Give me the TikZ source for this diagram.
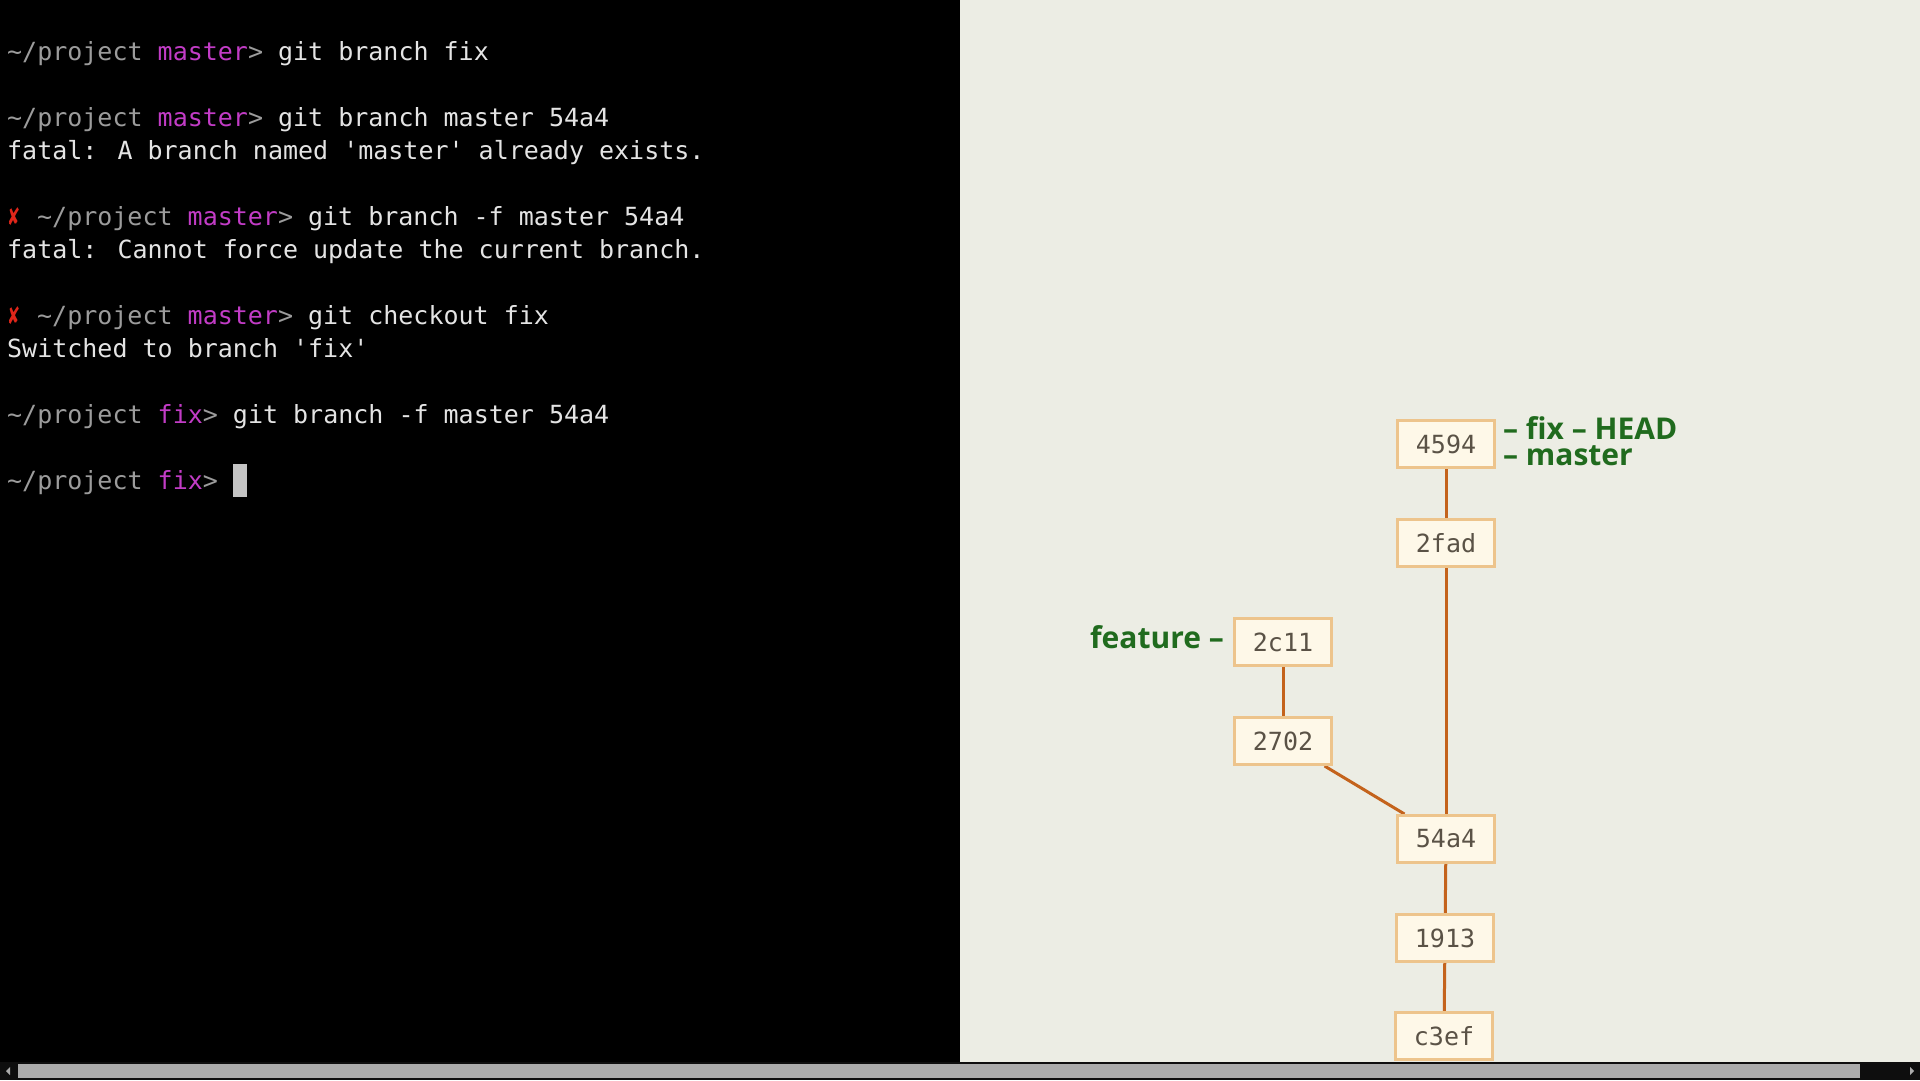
\documentclass[tikz,border=0pt]{standalone}
\usepackage{fontspec}
\setmainfont{Open Sans}
\newfontfamily\term{DejaVu Sans Mono}
\newfontfamily\sym{DejaVu Sans}
\newfontfamily\lab{Open Sans}
\usetikzlibrary{backgrounds}
\definecolor{termbg}{HTML}{000000}
\definecolor{panelbg}{HTML}{ECEDE4}
\definecolor{sbbg}{HTML}{0E0E0E}
\definecolor{sbbar}{HTML}{ABABAB}
\definecolor{cmd}{HTML}{E4E4E4}
\definecolor{prgrey}{HTML}{9C9C9C}
\definecolor{brmag}{HTML}{C23CC6}
\definecolor{xred}{HTML}{E0261A}
\definecolor{cursorc}{HTML}{C4C4C4}
\definecolor{boxborder}{HTML}{EDC48C}
\definecolor{boxfill}{HTML}{FEF8E8}
\definecolor{boxtext}{HTML}{5A5246}
\definecolor{edgec}{HTML}{C4631C}
\definecolor{labgreen}{HTML}{206B1E}
\newcommand\tprompt[1]{\textcolor{prgrey}{\textasciitilde/project} \textcolor{brmag}{#1}\textcolor{prgrey}{>} }
\newcommand\tcross{\makebox[30pt][l]{\textcolor{xred}{\sym\bfseries\fontsize{24}{24}\selectfont\scalebox{0.65}[1]{✘}}}}
\tikzset{
  termline/.style={anchor=base west, inner sep=0pt, font=\term\fontsize{25}{30}\selectfont, text=cmd},
  commit/.style={draw=boxborder, fill=boxfill, line width=3pt, minimum width=97pt, minimum height=47pt, inner sep=0pt, font=\term\fontsize{25}{30}\selectfont, text=boxtext},
  edge/.style={draw=edgec, line width=3pt},
  brlabel/.style={inner sep=0pt, font=\lab\bfseries\fontsize{30}{26}\selectfont, text=labgreen}
}
\begin{document}
\begin{tikzpicture}[x=1pt,y=-1pt]
\useasboundingbox (0,0) rectangle (1920,1080);
% terminal lines
\node[termline] (t1) at (7,60) {\tprompt{master}git branch fix};
\node[termline] (t3) at (7,126.1) {\tprompt{master}git branch master 54a4};
\node[termline] (t4) at (7,159.2) {fatal: A branch named 'master' already exists.};
\node[termline] (t6) at (7,225.3) {\tcross\tprompt{master}git branch -f master 54a4};
\node[termline] (t7) at (7,258.4) {fatal: Cannot force update the current branch.};
\node[termline] (t9) at (7,324.5) {\tcross\tprompt{master}git checkout fix};
\node[termline] (t10) at (7,357.5) {Switched to branch 'fix'};
\node[termline] (t12) at (7,423.7) {\tprompt{fix}git branch -f master 54a4};
\node[termline] (t14) at (7,489.8) {\tprompt{fix}};
\fill[cursorc] (233,464) rectangle (247,497);
% commits
\node[commit] (c4594) at (1446,444) {4594};
\node[commit] (c2fad) at (1446,543) {2fad};
\node[commit] (c2c11) at (1283,642) {2c11};
\node[commit] (c2702) at (1283,741) {2702};
\node[commit] (c54a4) at (1446,839) {54a4};
\node[commit] (c1913) at (1445,938) {1913};
\node[commit] (cc3ef) at (1444,1036) {c3ef};
% labels
\node[brlabel, anchor=base west, align=left] (lfix) at (1503,465) {– fix – HEAD\\– master};
\node[brlabel, anchor=base east] (lfeature) at (1224,648) {feature –};
\begin{scope}[on background layer]
\fill[termbg] (0,0) rectangle (960,1062);
\fill[panelbg] (960,0) rectangle (1920,1062);
\draw[edge] (c4594) -- (c2fad);
\draw[edge] (c2fad) -- (c54a4);
\draw[edge] (c2c11) -- (c2702);
\draw[edge] (c2702) -- (c54a4);
\draw[edge] (c54a4) -- (c1913);
\draw[edge] (c1913) -- (cc3ef);
\end{scope}
% scrollbar
\fill[sbbg] (0,1062) rectangle (1920,1080);
\fill[sbbar] (18,1064) rectangle (1860,1078);
\fill[sbbar] (6,1071) -- (10,1067) -- (10,1075) -- cycle;
\fill[sbbar] (1914,1071) -- (1910,1067) -- (1910,1075) -- cycle;
\end{tikzpicture}
\end{document}
